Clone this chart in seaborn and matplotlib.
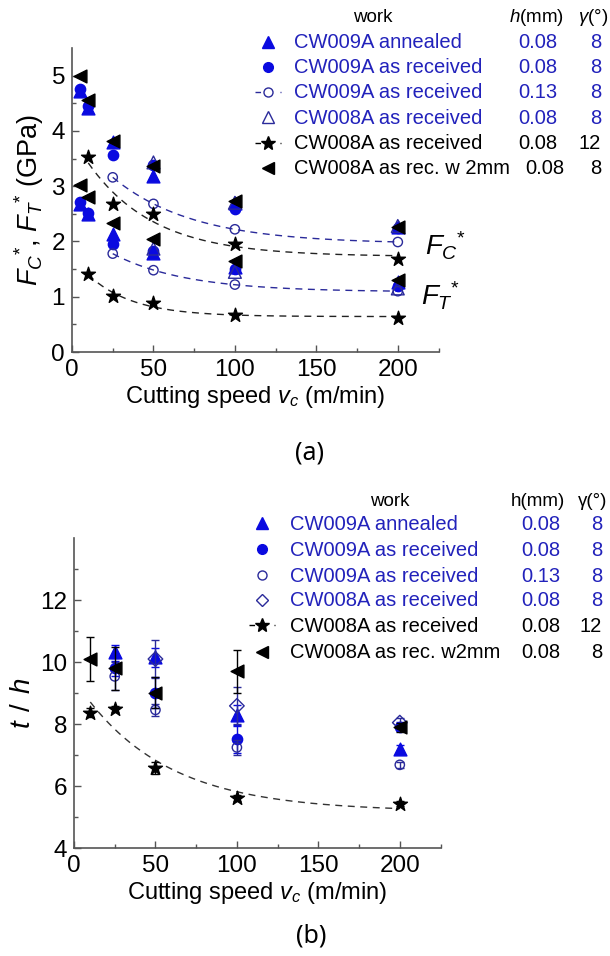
import numpy as np
import pandas as pd
import matplotlib
matplotlib.use('Agg')
import matplotlib.pyplot as plt
import seaborn as sns
from matplotlib.lines import Line2D

# ---------------- data: panel (a) ----------------
vc_A = [5, 10, 25, 50, 100, 200]
fc_A = [4.72, 4.42, 3.80, 3.19, 2.70, 2.26]
ft_A = [2.68, 2.50, 2.14, 1.79, 1.53, 1.26]
vc_B = [5, 10, 25, 50, 100, 200]
fc_B = [4.76, 4.45, 3.57, 3.38, 2.58, 2.24]
ft_B = [2.72, 2.52, 1.95, 1.82, 1.50, 1.20]
vc_C = [25, 50, 100, 200]
fc_C = [3.16, 2.68, 2.22, 1.99]
ft_C = [1.78, 1.48, 1.22, 1.10]
vc_D = [50, 100, 200]
fc_D = [3.43, 2.70, 2.28]
ft_D = [1.87, 1.45, 1.15]
vc_E = [10, 25, 50, 100, 200]
fc_E = [3.52, 2.67, 2.49, 1.95, 1.69]
ft_E = [1.42, 1.01, 0.88, 0.67, 0.62]
vc_F = [5, 10, 25, 50, 100, 200]
fc_F = [5.00, 4.56, 3.82, 3.36, 2.74, 2.27]
ft_F = [3.03, 2.80, 2.33, 2.05, 1.64, 1.31]

# ---------------- data: panel (b) ----------------
vb_A = [25, 50, 100, 200]
th_A = [10.34, 10.15, 8.28, 7.19]
er_A = [0.20, 0.30, 0.35, 0.15]
vb_B = [25, 50, 100, 200]
th_B = [9.80, 9.02, 7.52, 7.92]
er_B = [0.25, 0.50, 0.45, 0.15]
vb_C = [25, 50, 100, 200]
th_C = [9.54, 8.46, 7.25, 6.69]
er_C = [0.45, 0.20, 0.25, 0.10]
vb_D = [50, 100, 200]
th_D = [10.10, 8.59, 8.05]
er_D = [0.60, 0.60, 0.15]
vb_E = [10, 25, 50, 100, 200]
th_E = [8.37, 8.50, 6.58, 5.61, 5.43]
er_E = [0.15, 0.10, 0.20, 0.10, 0.08]
vb_F = [10, 25, 50, 100, 200]
th_F = [10.10, 9.80, 9.02, 9.70, 7.90]
er_F = [0.70, 0.70, 0.50, 0.70, 0.15]

# legend table texts
works_a = ["CW009A annealed", "CW009A as received", "CW009A as received",
           "CW008A as received", "CW008A as received", "CW008A as rec. w 2mm"]
works_b = ["CW009A annealed", "CW009A as received", "CW009A as received",
           "CW008A as received", "CW008A as received", "CW008A as rec. w2mm"]
h_vals = ["0.08", "0.08", "0.13", "0.08", "0.08", "0.08"]
g_vals = ["8", "8", "8", "8", "12", "8"]

# ---------------- styling ----------------
sns.set_theme(style="ticks")
plt.rcParams['font.family'] = ['Liberation Sans', 'DejaVu Sans']
plt.rcParams['mathtext.fontset'] = 'custom'
plt.rcParams['mathtext.rm'] = 'Liberation Sans'
plt.rcParams['mathtext.it'] = 'Liberation Sans:italic'
plt.rcParams['mathtext.bf'] = 'Liberation Sans:bold'
plt.rcParams['text.color'] = 'black'
plt.rcParams['axes.labelcolor'] = 'black'
plt.rcParams['xtick.labelcolor'] = 'black'
plt.rcParams['ytick.labelcolor'] = 'black'

BLUE = '#0a0ae0'
NAVY = '#2a2a9a'
TXTBLUE = '#2222bb'
BLACK = '#000000'
SPINE = '#555555'

W, H = 610, 956
fig = plt.figure(figsize=(W / 100, H / 100), dpi=100)


def P(px, py):
    return (px / W, 1 - py / H)


def exp_fit(x, y):
    x = np.asarray(x, float)
    y = np.asarray(y, float)
    best = None
    for c in np.linspace(3, 400, 800):
        A = np.column_stack([np.ones_like(x), np.exp(-x / c)])
        coef, *_ = np.linalg.lstsq(A, y, rcond=None)
        r = np.sum((A @ coef - y) ** 2)
        if best is None or r < best[0]:
            best = (r, c, coef)
    _, c, (a, b) = best
    xs = np.linspace(x.min(), x.max(), 200)
    return xs, a + b * np.exp(-xs / c)


# marker styles per series
styles = {
    'A': dict(marker='^', s=85, color=BLUE, edgecolor=BLUE),
    'B': dict(marker='o', s=55, color=BLUE, edgecolor=BLUE),
    'C': dict(marker='o', s=45, color='none', edgecolor=NAVY),
    'D': dict(marker='^', s=85, color='none', edgecolor=NAVY),
    'E': dict(marker='*', s=110, color=BLACK, edgecolor=BLACK),
    'F': dict(marker='<', s=85, color=BLACK, edgecolor=BLACK),
}


def style_axes(ax):
    sns.despine(ax=ax)
    for sp in ('left', 'bottom'):
        ax.spines[sp].set_color(SPINE)
        ax.spines[sp].set_linewidth(1.2)
    ax.tick_params(which='both', direction='in', color=SPINE, labelsize=17.5,
                   pad=5, labelcolor='black')
    ax.tick_params(which='major', length=5, width=1)
    ax.tick_params(which='minor', length=3, width=1)


XMAX = 220
AXW = XMAX * (83.3 / 50)

# ---------------- panel (a) ----------------
ax1 = fig.add_axes([72 / W, 1 - 352 / H, AXW / W, 304 / H])
ax1.set_xlim(0, XMAX)
ax1.set_ylim(0, 5.5)

for xs_, ys_, col in [(vc_C, fc_C, NAVY), (vc_C, ft_C, NAVY),
                      (vc_E, fc_E, '#222222'), (vc_E, ft_E, '#222222')]:
    fx, fy = exp_fit(xs_, ys_)
    sns.lineplot(x=fx, y=fy, ax=ax1, color=col, linewidth=1.0,
                 linestyle=(0, (5, 4)), sort=False, estimator=None, zorder=1)

series_a = [('A', vc_A, fc_A, ft_A), ('B', vc_B, fc_B, ft_B),
            ('C', vc_C, fc_C, ft_C), ('D', vc_D, fc_D, ft_D),
            ('E', vc_E, fc_E, ft_E), ('F', vc_F, fc_F, ft_F)]
for k, (key, xv, yc, yt) in enumerate(series_a):
    st = styles[key]
    for yv in (yc, yt):
        sns.scatterplot(x=xv, y=yv, ax=ax1, marker=st['marker'], s=st['s'],
                        color=st['color'], edgecolor=st['edgecolor'],
                        linewidth=1.0, zorder=3 + k, legend=False)

style_axes(ax1)
ax1.set_xticks([0, 50, 100, 150, 200])
ax1.set_xticks([25, 75, 125, 175, 225], minor=True)
ax1.set_yticks([0, 1, 2, 3, 4, 5])
ax1.set_yticks([0.5, 1.5, 2.5, 3.5, 4.5], minor=True)
ax1.set_xlabel(r'Cutting speed $v_c$ (m/min)', fontsize=17, labelpad=2)
ax1.set_ylabel(r'$F_C{}^{*}$, $F_T{}^{*}$ (GPa)', fontsize=19.5)
ax1.yaxis.set_label_coords(-0.07, 0.5)

fig.text(*P(425, 255), r'$F_C{}^{*}$', fontsize=20, ha='left', va='baseline')
fig.text(*P(421, 306), r'$F_T{}^{*}$', fontsize=20, ha='left', va='baseline')
fig.text(*P(310, 453), '(a)', fontsize=18, ha='center', va='center',
         family=['Noto Sans', 'DejaVu Sans'], style='normal')

# ---------------- panel (b) ----------------
ax2 = fig.add_axes([74 / W, 1 - 848.3 / H, AXW / W, 310.3 / H])
ax2.set_xlim(0, XMAX)
ax2.set_ylim(4, 14)

fx, fy = exp_fit(vb_E, th_E)
sns.lineplot(x=fx, y=fy, ax=ax2, color='#333333', linewidth=1.0,
             linestyle=(0, (5, 4)), sort=False, estimator=None, zorder=1)

series_b = [('A', vb_A, th_A, er_A, BLUE), ('B', vb_B, th_B, er_B, BLUE),
            ('C', vb_C, th_C, er_C, NAVY), ('D', vb_D, th_D, er_D, NAVY),
            ('E', vb_E, th_E, er_E, BLACK), ('F', vb_F, th_F, er_F, BLACK)]
for k, (key, xv, yv, ev, ecol) in enumerate(series_b):
    st = dict(styles[key])
    if key == 'D':
        st['marker'] = 'D'
        st['s'] = 55
    ax2.errorbar(xv, yv, yerr=ev, fmt='none', ecolor=ecol, elinewidth=1.0,
                 capsize=3, capthick=1.0, zorder=2 + k)
    sns.scatterplot(x=xv, y=yv, ax=ax2, marker=st['marker'], s=st['s'],
                    color=st['color'], edgecolor=st['edgecolor'],
                    linewidth=1.0, zorder=3 + k, legend=False)

style_axes(ax2)
ax2.set_xticks([0, 50, 100, 150, 200])
ax2.set_xticks([25, 75, 125, 175, 225], minor=True)
ax2.set_yticks([4, 6, 8, 10, 12])
ax2.set_yticks([5, 7, 9, 11, 13], minor=True)
ax2.set_xlabel(r'Cutting speed $v_c$ (m/min)', fontsize=17, labelpad=2)
ax2.set_ylabel(r'$t\;\,/\;\,h$', fontsize=20)
ax2.yaxis.set_label_coords(-0.105, 0.47)

fig.text(*P(311, 936), '(b)', fontsize=18, ha='center', va='center',
         family=['Noto Sans', 'DejaVu Sans'], style='normal')


# ---------------- legend tables ----------------
def legend_marker(key, px, py, dashed, diamond=False):
    st = styles[key]
    mk = 'D' if diamond else st['marker']
    ms = {'^': 8, 'o': 7, '*': 10, '<': 8, 'D': 6}[mk]
    if key == 'C':
        ms = 6.5
    fc = st['color']
    ec = st['edgecolor']
    lc = NAVY if key == 'C' else BLACK
    if dashed:
        x0, y0 = P(px - 13, py)
        x1, y1 = P(px + 13, py)
        fig.add_artist(Line2D([x0, x1], [y0, y1], transform=fig.transFigure,
                              color=lc, linewidth=1.0, linestyle=(0, (4, 14))))
    x, y = P(px, py)
    fig.add_artist(Line2D([x], [y], transform=fig.transFigure, marker=mk,
                          markersize=ms, markerfacecolor=fc,
                          markeredgecolor=ec, linestyle='none',
                          markeredgewidth=1.0))


def legend_table(header_y, row_ys, mx, tx, h_right, h_hdr, g_right, g_hdr,
                 works, h_head, g_head, dashed_keys, diamond, last_h_right,
                 work_x):
    fs = 14.5
    fig.text(*P(work_x, header_y + 6), 'work',
             fontsize=13.5, ha='center', va='baseline')
    fig.text(*P(h_hdr, header_y + 6), h_head, fontsize=13.5, ha='center',
             va='baseline')
    fig.text(*P(g_hdr, header_y + 6), g_head, fontsize=13.5, ha='center',
             va='baseline')
    keys = ['A', 'B', 'C', 'D', 'E', 'F']
    for i, (key, ry) in enumerate(zip(keys, row_ys)):
        col = TXTBLUE if i < 4 else BLACK
        legend_marker(key, mx, ry, key in dashed_keys,
                      diamond=(diamond and key == 'D'))
        fig.text(*P(tx, ry + 6.5), works[i], fontsize=fs, color=col,
                 ha='left', va='baseline')
        hr = last_h_right if i == 5 else h_right
        fig.text(*P(hr, ry + 6.5), h_vals[i], fontsize=fs, color=col,
                 ha='right', va='baseline')
        fig.text(*P(g_right, ry + 6.5), g_vals[i], fontsize=fs, color=col,
                 ha='right', va='baseline')


legend_table(16, [41.7, 66.7, 92, 117, 142.7, 168], 268, 294, 557, 537,
             601, 593, works_a, r'$h$(mm)', r'$\gamma$(°)', ('C', 'E'),
             False, 564, 373)
legend_table(500, [523.3, 549.3, 575, 600, 625, 651.7], 262, 290, 560, 538,
             602, 593, works_b, 'h(mm)', 'γ(°)', ('E',), True, 560, 390)

fig.savefig('out.png', dpi=100)
